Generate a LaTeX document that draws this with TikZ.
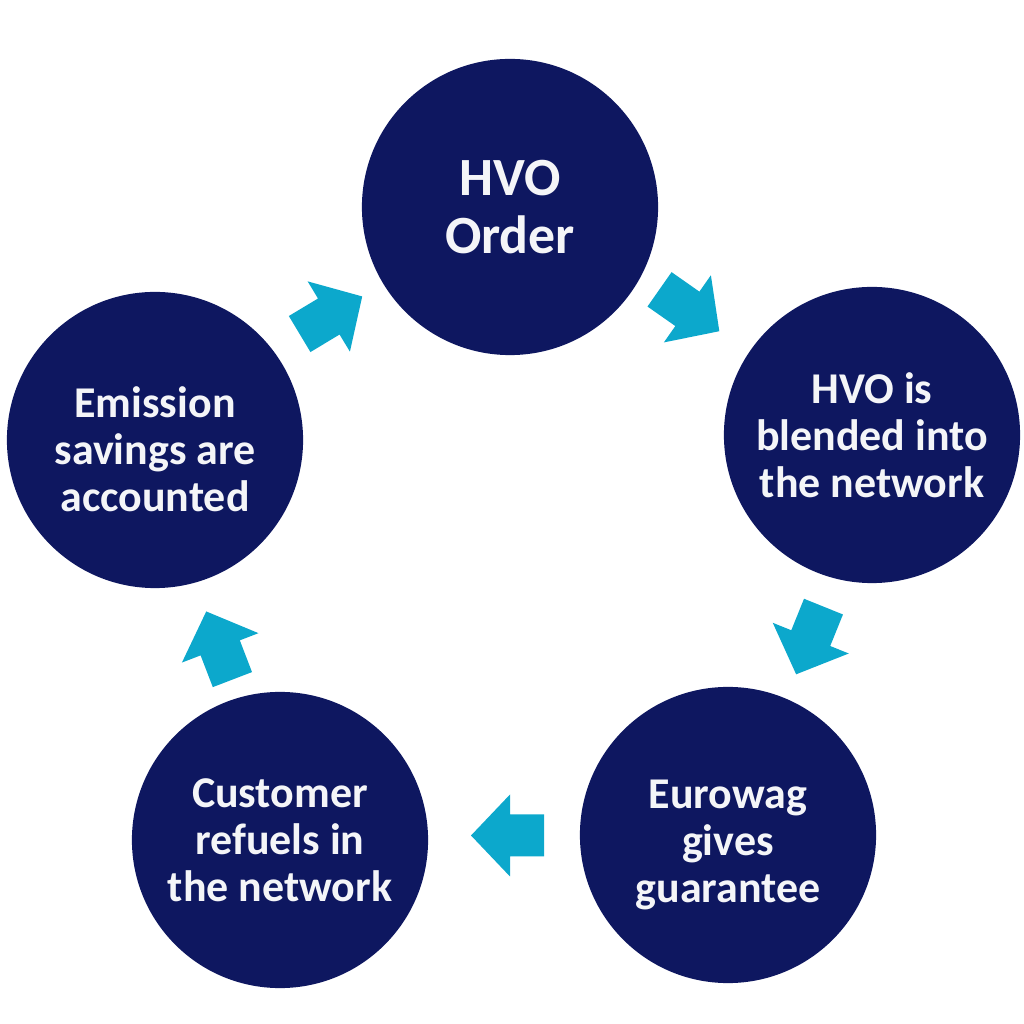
\documentclass[tikz,border=0pt]{standalone}
\usepackage{fontspec}
\setmainfont{Carlito}
\usetikzlibrary{calc}

\definecolor{navy}{HTML}{0E1760}
\definecolor{flowcyan}{HTML}{0CA8CC}
\definecolor{paper}{HTML}{F4F5F8}

\begin{document}
\begin{tikzpicture}[x=0.01cm, y=0.01cm,
    stagetext/.style={text=paper, align=center, inner sep=0pt,
      font=\bfseries\fontsize{12.5}{13.4}\selectfont},
    stage/.style={circle, fill=navy, minimum size=2.96cm, inner sep=0pt, stagetext},
    flow/.pic={\fill[flowcyan] (-36,-21) -- (-2,-21) -- (-2,-41) -- (37,0) -- (-2,41) -- (-2,21) -- (-36,21) -- cycle;}]

    \useasboundingbox (0,0) rectangle (1024,1024);

    % Etapas del ciclo
    \node[stage, font=\bfseries\fontsize{15.3}{16.3}\selectfont] (order) at (510,817) {HVO\\Order};
    \node[stage] (blend) at (872,589) {HVO is\\blended into\\the network};
    \node[stage, label={[stagetext, yshift=-0.1cm]center:{Eurowag\\gives\\guarantee}}] (guarantee) at (728,189) {};
    \node[stage] (refuel) at (280,184) {Customer\\refuels in\\the network};
    \node[stage, label={[stagetext, yshift=-0.09cm]center:{Emission\\savings are\\accounted}}] (savings) at (155,584) {};

    % Flechas entre etapas
    \path ($(order)!0.5!(blend)+(-2,11)$) pic[rotate=-35] {flow};
    \path ($(blend)!0.5!(guarantee)+(10,-5)$) pic[rotate=-112] {flow};
    \path ($(guarantee)!0.5!(refuel)+(4,2)$) pic[rotate=180] {flow};
    \path ($(refuel)!0.5!(savings)+(2,-6)$) pic[rotate=111] {flow};
    \path ($(savings)!0.5!(order)+(-2,8)$) pic[rotate=31] {flow};
\end{tikzpicture}
\end{document}
